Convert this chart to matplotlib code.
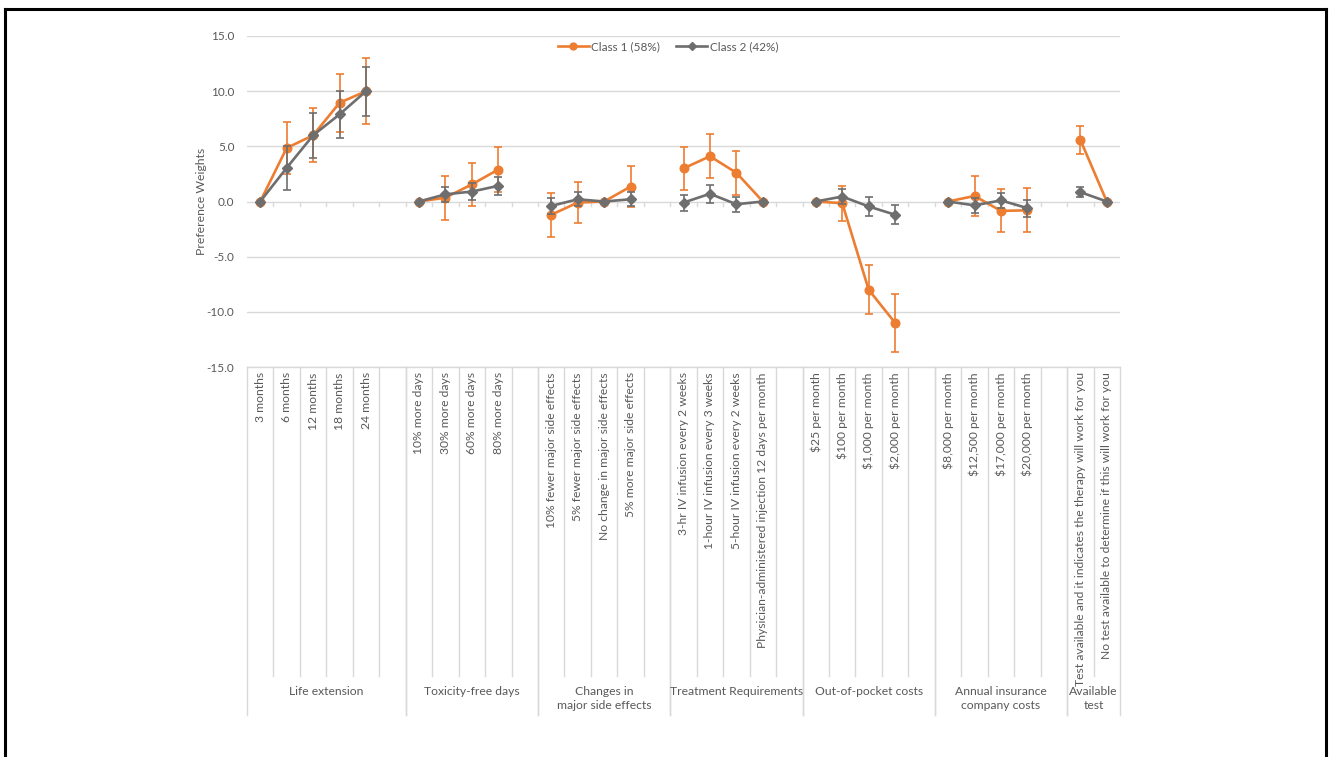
import matplotlib
matplotlib.use("Agg")
import matplotlib.pyplot as plt
import matplotlib.transforms as mtransforms
from matplotlib.lines import Line2D
import numpy as np

plt.rcParams['font.family'] = ['Lato', 'DejaVu Sans']

# Attribute groups and their levels
groups = ["Life extension", "Toxicity-free days", "Changes in\nmajor side effects",
          "Treatment Requirements", "Out-of-pocket costs",
          "Annual insurance\ncompany costs", "Available\ntest"]

levels = [
    ["3 months", "6 months", "12 months", "18 months", "24 months"],
    ["10% more days", "30% more days", "60% more days", "80% more days"],
    ["10% fewer major side effects", "5% fewer major side effects",
     "No change in major side effects", "5% more major side effects"],
    ["3-hr IV infusion every 2 weeks", "1-hour IV infusion every 3 weeks",
     "5-hour IV infusion every 2 weeks", "Physician-administered injection 12 days per month"],
    ["$25 per month", "$100 per month", "$1,000 per month", "$2,000 per month"],
    ["$8,000 per month", "$12,500 per month", "$17,000 per month", "$20,000 per month"],
    ["Test available and it indicates the therapy will work for you",
     "No test available to determine if this will work for you"],
]

# Preference weights and error half-widths
class1 = [[0, 4.85, 6.0, 8.95, 10.0], [0, 0.35, 1.55, 2.9], [-1.2, -0.1, 0, 1.35],
          [3.0, 4.1, 2.6, 0], [0, -0.15, -8.0, -11.0], [0, 0.5, -0.85, -0.8], [5.6, 0]]
class1_err = [[0, 2.33, 2.43, 2.65, 3.0], [0, 2.0, 1.95, 2.05], [2.0, 1.85, 0, 1.85],
              [1.95, 2.0, 2.0, 0], [0, 1.6, 2.2, 2.6], [0, 1.85, 1.95, 2.0], [1.25, 0]]
class2 = [[0, 3.05, 6.0, 7.9, 10.0], [0, 0.65, 0.9, 1.42], [-0.4, 0.2, 0, 0.2],
          [-0.1, 0.7, -0.25, 0], [0, 0.45, -0.45, -1.2], [0, -0.35, 0.1, -0.6], [0.85, 0]]
class2_err = [[0, 2.0, 2.05, 2.1, 2.23], [0, 0.7, 0.8, 0.8], [0.75, 0.65, 0, 0.65],
              [0.72, 0.8, 0.7, 0], [0, 0.72, 0.82, 0.85], [0, 0.7, 0.7, 0.78], [0.47, 0]]

series_names = ["Class 1 (58%)", "Class 2 (42%)"]
yticks = [15, 10, 5, 0, -5, -10, -15]

ORANGE = "#ED7D31"
GREY = "#6E6E6E"
TEXT = "#595959"
GRID = "#D9D9D9"

fig = plt.figure(figsize=(13.29, 7.57), dpi=100)
ax = fig.add_axes([247 / 1329, 390 / 757, 873 / 1329, 331 / 757])

# slot layout: every group gets one blank slot after it, except the last
slots = []
start = 0
group_spans = []
for gi, lv in enumerate(levels):
    n = len(lv) + (1 if gi < len(levels) - 1 else 0)
    group_spans.append((start, start + n))
    slots.append([start + i + 0.5 for i in range(len(lv))])
    start += n
nslots = start

def flatten(values):
    xs, ys = [], []
    for gi, vals in enumerate(values):
        xs.extend(slots[gi])
        ys.extend(vals)
        xs.append(np.nan)
        ys.append(np.nan)
    return np.array(xs), np.array(ys)

ax.set_xlim(0, nslots)
ax.set_ylim(-15, 15)

for y in yticks:
    ax.axhline(y, color=GRID, lw=1.0, zorder=0)

# small ticks under the zero line at slot boundaries
for b in range(1, nslots):
    ax.plot([b, b], [0, -0.4], color=GRID, lw=1.0, zorder=0)

specs = [(class1, class1_err, ORANGE, "o", 6.2),
         (class2, class2_err, GREY, "D", 5.0)]
handles = []
for k, (vals, errs, col, mk, ms) in enumerate(specs):
    xs, ys = flatten(vals)
    _, es = flatten(errs)
    mask = np.nan_to_num(es) > 0
    ax.errorbar(xs[mask], ys[mask], yerr=es[mask], fmt="none", ecolor=col,
                elinewidth=1.2, capsize=3, capthick=1.2, zorder=2 + 2 * k)
    ax.plot(xs, ys, color=col, lw=1.9, marker=mk, ms=ms, zorder=3 + 2 * k)
    handles.append(Line2D([], [], color=col, lw=1.9, marker=mk, ms=ms * 0.8))

ax.set_yticks(yticks)
ax.set_yticklabels([f"{v:.1f}" for v in yticks], color=TEXT, fontsize=8.5)
ax.tick_params(axis="y", length=0, pad=9)
ax.set_xticks([])
for s in ax.spines.values():
    s.set_visible(False)
ax.set_ylabel("Preference Weights", color=TEXT, fontsize=8.8, labelpad=0)

# multi-level category axis
trans = mtransforms.blended_transform_factory(ax.transData, ax.transAxes)
item_bottom = -0.9335
group_bottom = -1.0514
ax.plot([0, nslots], [0, 0], transform=trans, color=GRID, lw=1.0, clip_on=False)
for gi, (a, b) in enumerate(group_spans):
    for bd in range(a + 1, b):
        ax.plot([bd, bd], [0, item_bottom], transform=trans, color=GRID, lw=1.0,
                clip_on=False)
    for bd in (a, b):
        ax.plot([bd, bd], [0, group_bottom], transform=trans, color=GRID, lw=1.0,
                clip_on=False)
    for x, lab in zip(slots[gi], levels[gi]):
        ax.text(x, -0.016, lab, transform=trans, rotation=90, ha="center", va="top",
                color=TEXT, fontsize=8.7, clip_on=False)
    ax.text((a + b) / 2, -0.9637, groups[gi], transform=trans, ha="center",
            va="top", color=TEXT, fontsize=8.7, linespacing=1.3, clip_on=False)

fig.legend(handles, series_names, loc="center", bbox_to_anchor=(668 / 1329, 1 - 47 / 757),
           ncol=2, frameon=False, fontsize=8.5, labelcolor=TEXT, handlelength=2.6,
           columnspacing=1.4, handletextpad=0.2)

# outer frame
frame_kw = dict(color="black", lw=2.2, transform=fig.transFigure)
fig.add_artist(Line2D([5 / 1329, 5 / 1329], [0, 1 - 9 / 757], **frame_kw))
fig.add_artist(Line2D([5 / 1329, 1326 / 1329], [1 - 9 / 757, 1 - 9 / 757], **frame_kw))
fig.add_artist(Line2D([1326 / 1329, 1326 / 1329], [0, 1 - 9 / 757], **frame_kw))

fig.savefig("out.png", dpi=100)
